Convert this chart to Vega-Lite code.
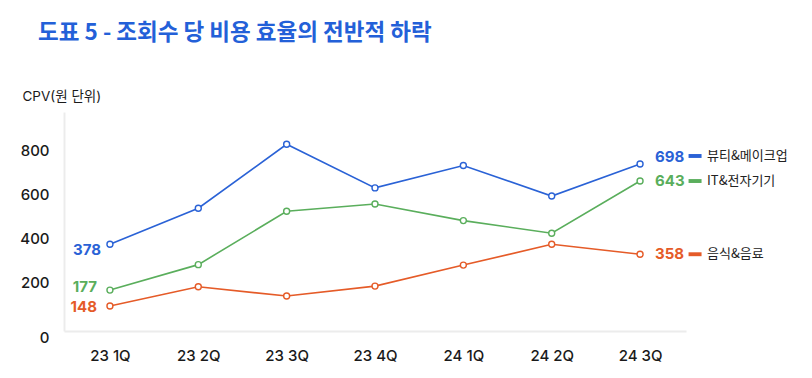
{
  "$schema": "https://vega.github.io/schema/vega-lite/v6.json",
  "width": 622,
  "height": 219,
  "autosize": {"type": "none"},
  "padding": {"left": 64, "top": 112, "right": 126, "bottom": 47},
  "background": "#ffffff",
  "config": {"view": {"stroke": null}, "font": "Inter, Noto Sans CJK KR, sans-serif"},
  "title": {
    "text": "도표 5 - 조회수 당 비용 효율의 전반적 하락",
    "anchor": "start",
    "frame": "group",
    "dx": -26,
    "offset": 45,
    "fontSize": 22.5,
    "fontWeight": "bold",
    "color": "#2360d8",
    "font": "Noto Sans CJK KR"
  },
  "data": {
    "values": [
      {"q": "23 1Q", "series": "뷰티&메이크업", "v": 374, "label": "378"},
      {"q": "23 2Q", "series": "뷰티&메이크업", "v": 537},
      {"q": "23 3Q", "series": "뷰티&메이크업", "v": 826},
      {"q": "23 4Q", "series": "뷰티&메이크업", "v": 629},
      {"q": "24 1Q", "series": "뷰티&메이크업", "v": 730},
      {"q": "24 2Q", "series": "뷰티&메이크업", "v": 592},
      {"q": "24 3Q", "series": "뷰티&메이크업", "v": 737, "label": "698"},
      {"q": "23 1Q", "series": "IT&전자기기", "v": 167, "label": "177"},
      {"q": "23 2Q", "series": "IT&전자기기", "v": 282},
      {"q": "23 3Q", "series": "IT&전자기기", "v": 523},
      {"q": "23 4Q", "series": "IT&전자기기", "v": 556},
      {"q": "24 1Q", "series": "IT&전자기기", "v": 481},
      {"q": "24 2Q", "series": "IT&전자기기", "v": 424},
      {"q": "24 3Q", "series": "IT&전자기기", "v": 660, "label": "643"},
      {"q": "23 1Q", "series": "음식&음료", "v": 95, "label": "148"},
      {"q": "23 2Q", "series": "음식&음료", "v": 182},
      {"q": "23 3Q", "series": "음식&음료", "v": 140},
      {"q": "23 4Q", "series": "음식&음료", "v": 185},
      {"q": "24 1Q", "series": "음식&음료", "v": 280},
      {"q": "24 2Q", "series": "음식&음료", "v": 374},
      {"q": "24 3Q", "series": "음식&음료", "v": 329, "label": "358"}
    ]
  },
  "encoding": {
    "x": {
      "field": "q",
      "type": "ordinal",
      "sort": null,
      "scale": {"type": "point", "padding": 0.52},
      "axis": {
        "title": null,
        "labelAngle": 0,
        "ticks": false,
        "grid": false,
        "domainColor": "#ececec",
        "domainWidth": 2,
        "labelFontSize": 15,
        "labelColor": "#1a1a1a",
        "labelPadding": 17,
        "labelFontWeight": 500
      }
    },
    "y": {
      "field": "v",
      "type": "quantitative",
      "scale": {"domain": [-18, 972], "nice": false, "zero": false},
      "axis": {
        "title": "CPV(원 단위)",
        "values": [0, 200, 400, 600, 800],
        "ticks": false,
        "grid": false,
        "domainColor": "#ececec",
        "domainWidth": 2,
        "labelFontSize": 15,
        "labelColor": "#1a1a1a",
        "labelPadding": 15,
        "labelFontWeight": 500,
        "labelOffset": {"condition": {"test": "datum.value === 0", "value": 10}, "value": 0},
        "titleAngle": 0,
        "titleAlign": "left",
        "titleBaseline": "middle",
        "titleX": -42,
        "titleY": -16,
        "titleFontSize": 13.5,
        "titleFontWeight": "normal",
        "titleColor": "#1a1a1a"
      }
    },
    "color": {
      "field": "series",
      "type": "nominal",
      "scale": {
        "domain": ["뷰티&메이크업", "IT&전자기기", "음식&음료"],
        "range": ["#2a62d6", "#5aae5c", "#e55b28"]
      },
      "legend": null
    }
  },
  "layer": [
    {"mark": {"type": "line", "strokeWidth": 1.6}},
    {"mark": {"type": "point", "filled": false, "fill": "#ffffff", "fillOpacity": 1, "size": 36, "strokeWidth": 1.4, "opacity": 1}},
    {
      "transform": [{"filter": "datum.q === '23 1Q' && datum.series === '뷰티&메이크업'"}],
      "mark": {"type": "text", "align": "right", "baseline": "middle", "dx": -9, "dy": 6, "fontSize": 15, "fontWeight": "bold"},
      "encoding": {"text": {"field": "label"}}
    },
    {
      "transform": [{"filter": "datum.q === '23 1Q' && datum.series === 'IT&전자기기'"}],
      "mark": {"type": "text", "align": "right", "baseline": "middle", "dx": -13, "dy": -3, "fontSize": 15, "fontWeight": "bold"},
      "encoding": {"text": {"field": "label"}}
    },
    {
      "transform": [{"filter": "datum.q === '23 1Q' && datum.series === '음식&음료'"}],
      "mark": {"type": "text", "align": "right", "baseline": "middle", "dx": -13, "dy": 1, "fontSize": 15, "fontWeight": "bold"},
      "encoding": {"text": {"field": "label"}}
    },
    {
      "transform": [{"filter": "datum.q === '24 3Q' && datum.series === '뷰티&메이크업'"}],
      "mark": {"type": "text", "align": "left", "baseline": "middle", "dx": 15, "dy": -7, "fontSize": 15, "fontWeight": "bold"},
      "encoding": {"text": {"field": "label"}}
    },
    {
      "transform": [{"filter": "datum.q === '24 3Q' && datum.series !== '뷰티&메이크업'"}],
      "mark": {"type": "text", "align": "left", "baseline": "middle", "dx": 15, "dy": 0, "fontSize": 15, "fontWeight": "bold"},
      "encoding": {"text": {"field": "label"}}
    },
    {
      "transform": [{"filter": "datum.q === '24 3Q' && datum.series === '뷰티&메이크업'"}],
      "mark": {"type": "point", "shape": "M-1,-0.3L1,-0.3L1,0.3L-1,0.3Z", "filled": true, "size": 169, "xOffset": 55, "yOffset": -8, "opacity": 1}
    },
    {
      "transform": [{"filter": "datum.q === '24 3Q' && datum.series !== '뷰티&메이크업'"}],
      "mark": {"type": "point", "shape": "M-1,-0.3L1,-0.3L1,0.3L-1,0.3Z", "filled": true, "size": 169, "xOffset": 55, "yOffset": 0, "opacity": 1}
    },
    {
      "transform": [{"filter": "datum.q === '24 3Q' && datum.series === '뷰티&메이크업'"}],
      "mark": {"type": "text", "align": "left", "baseline": "middle", "dx": 67, "dy": -8, "fontSize": 13, "font": "Noto Sans CJK KR"},
      "encoding": {"text": {"field": "series"}, "color": {"value": "#222222"}}
    },
    {
      "transform": [{"filter": "datum.q === '24 3Q' && datum.series !== '뷰티&메이크업'"}],
      "mark": {"type": "text", "align": "left", "baseline": "middle", "dx": 67, "dy": 0, "fontSize": 13, "font": "Noto Sans CJK KR"},
      "encoding": {"text": {"field": "series"}, "color": {"value": "#222222"}}
    }
  ]
}
